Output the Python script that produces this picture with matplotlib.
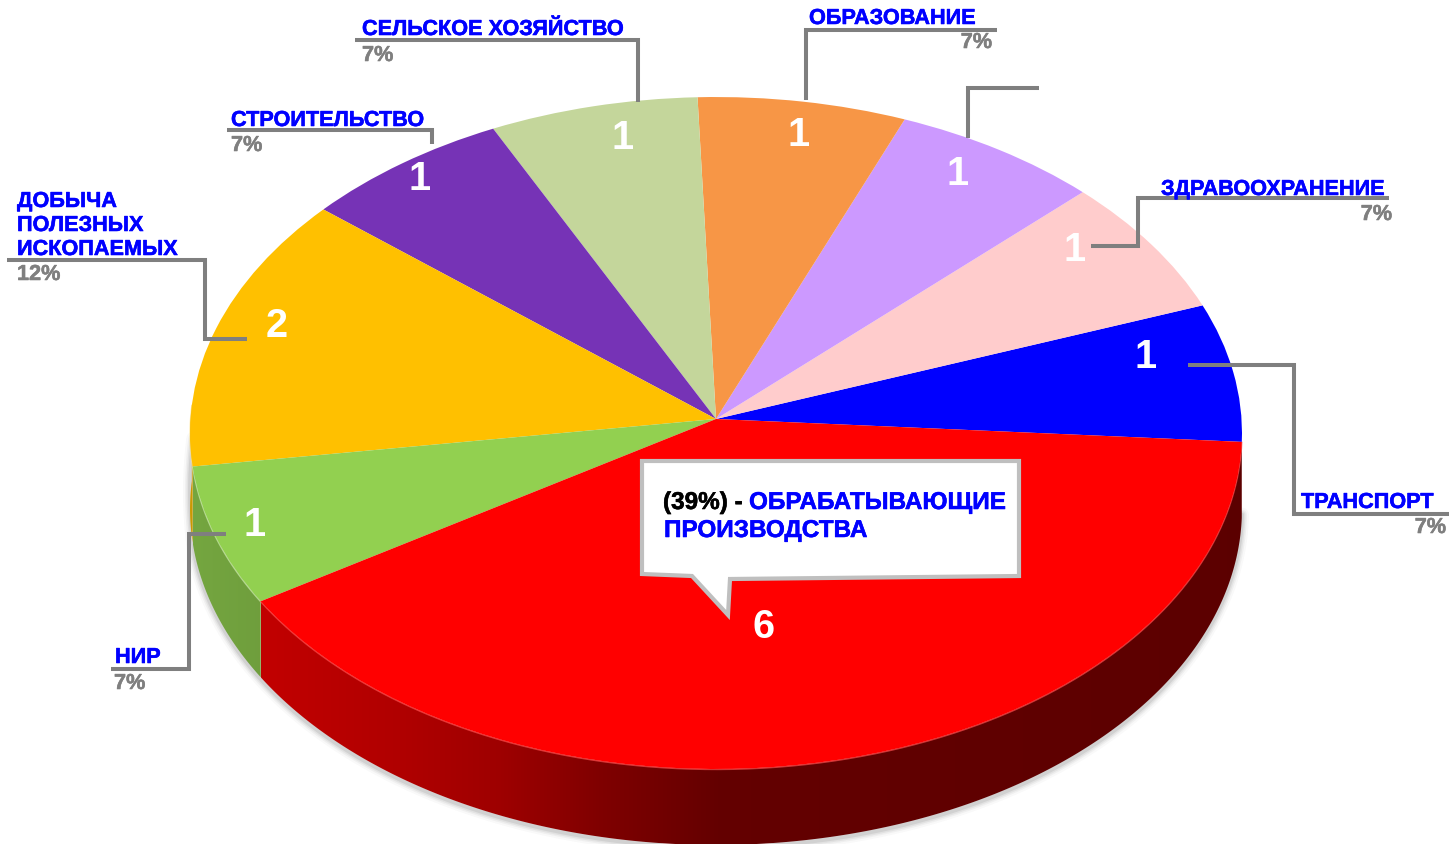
import numpy as np
import matplotlib
matplotlib.use("Agg")
import matplotlib.pyplot as plt
from matplotlib import patheffects as pe
from matplotlib.colors import to_rgb
from matplotlib.patches import Polygon
from matplotlib.transforms import Transform

plt.rcParams['font.family'] = ['Liberation Sans', 'DejaVu Sans']

# ---- data ----
categories = ['ТРАНСПОРТ', 'ЗДРАВООХРАНЕНИЕ', '', 'ОБРАЗОВАНИЕ', 'СЕЛЬСКОЕ ХОЗЯЙСТВО',
              'СТРОИТЕЛЬСТВО', 'ДОБЫЧА\nПОЛЕЗНЫХ\nИСКОПАЕМЫХ', 'НИР', 'ОБРАБАТЫВАЮЩИЕ ПРОИЗВОДСТВА']
values = [1, 1, 1, 1, 1, 1, 2, 1, 6]
percents = ['7%', '7%', '', '7%', '7%', '7%', '12%', '7%', '39%']
colors = ['#0000ff', '#ffcccc', '#cc99ff', '#f79646', '#c4d69b',
          '#7633b6', '#ffc000', '#92d050', '#ff0000']

# ---- layout (pixels) ----
W, H = 1449, 845
CX, CY, RX, RY, PK = 716.0, 420.0, 525.5, 335.4, 0.0417
DEPTH = 76.0
BLUE, GRAY = '#0000ff', '#7f7f7f'
FS = 15.6
value_pos = [(1146, 353), (1075, 246), (958, 170), (799, 131), (623, 134),
             (420, 175), (277, 322), (255, 521), (763, 623)]
leaders = [
    [(1188, 365.7), (1294, 365.7), (1294, 514.7), (1449, 514.7)],
    [(1091, 246.7), (1138, 246.7), (1138, 198.7), (1389, 198.7)],
    [(968, 139), (968, 88.7), (1039, 88.7)],
    [(806, 101), (806, 30.7), (997, 30.7)],
    [(638, 103), (638, 40.7), (355, 40.7)],
    [(432, 145), (432, 130.7), (227, 130.7)],
    [(247, 339.7), (205, 339.7), (205, 260.7), (7, 260.7)],
    [(226, 534.7), (189, 534.7), (189, 669.7), (111, 669.7)],
]
name_pos = [(1301, 509), (1161, 196), None, (809, 25), (362, 36), (231, 127), (17, 208), (115, 664)]
pct_pos = [(1446, 534, 'right'), (1392, 221, 'right'), None, (992, 49, 'right'),
           (362, 62, 'left'), (231, 152, 'left'), (17, 281, 'left'), (114, 690, 'left')]
callout = [(642, 462), (1019, 462), (1019, 577), (730, 580), (728, 616), (692, 577), (642, 575)]
thicken = [pe.withStroke(linewidth=0.4, foreground=BLUE)]
thicken_g = [pe.withStroke(linewidth=0.4, foreground=GRAY)]
thicken_k = [pe.withStroke(linewidth=0.4, foreground='black')]


class TiltTransform(Transform):
    """Unit disc -> screen pixels under a slight perspective tilt."""
    input_dims = output_dims = 2
    is_separable = False
    has_inverse = False

    def transform_non_affine(self, values):
        v = np.asarray(values, float)
        d = 1 + PK * v[:, 1]
        return np.column_stack([CX + RX * v[:, 0] / d, CY - RY * v[:, 1] / d])


def shade(x):
    return np.interp(x, [190, 262, 400, 500, 600, 720, 1240],
                     [.80, .76, .69, .62, .50, .39, .36])


fig = plt.figure(figsize=(W / 100, H / 100), dpi=100, facecolor='white')
ax = fig.add_axes([0, 0, 1, 1])
wedges, _ = ax.pie(values, colors=colors, startangle=-3.9, counterclock=True, radius=1,
                   wedgeprops=dict(linewidth=0))
tilt = TiltTransform()


def rim(a):
    r = np.radians(a)
    return tilt.transform(np.column_stack([np.cos(r), np.sin(r)]))


# soft shadow along the lower edge of the wall
a = np.linspace(176, 357, 500)
e = rim(a) + [0, DEPTH]
e[:, 1] = np.where(a < 190, e[:, 1] - (190 - a) * 2.5, e[:, 1])
for lw, al in zip([14, 10, 7, 4], [.03, .05, .07, .10]):
    ax.plot(e[:, 0], e[:, 1] + 2, color='#404040', lw=lw * .72, alpha=al,
            solid_capstyle='round', zorder=0.5)

# side wall, only the front half of the disc is visible
for w, c in zip(wedges, colors):
    t1, t2 = w.theta1 % 360, w.theta2 % 360
    if t2 < t1:
        t2 += 360
    lo, hi = max(t1, 177.6), min(t2, 356.1)
    if hi <= lo:
        continue
    aa = np.linspace(lo, hi, int((hi - lo) * 4) + 2)
    top = rim(aa)
    outline = np.vstack([top, (top + [0, DEPTH])[::-1]])
    x0, x1 = outline[:, 0].min(), outline[:, 0].max()
    y0, y1 = outline[:, 1].min(), outline[:, 1].max()
    xs = np.linspace(x0, x1, max(int(x1 - x0), 2))
    base = np.array(to_rgb(c))
    grad = (base[None, :] * shade(xs)[:, None])[None, :, :]
    im = ax.imshow(grad, extent=(x0, x1, y1, y0), aspect='auto', zorder=1,
                   interpolation='bilinear')
    im.set_clip_path(Polygon(outline, closed=True, transform=ax.transData))
    hl = 0.45 * base + 0.55 if c != '#ff0000' else np.array([1, .3, .3])
    ax.plot(top[:, 0], top[:, 1] + 0.5, color=hl, lw=1.0, alpha=.7, zorder=1.5)

ax.set_aspect('auto')
ax.set_xlim(0, W)
ax.set_ylim(H, 0)
ax.axis('off')

# top face
for w in wedges:
    w.set_transform(tilt + ax.transData)
    w.set_zorder(2)

# leader lines
for pts in leaders:
    xs, ys = zip(*pts)
    ax.plot(xs, ys, color=GRAY, lw=2.9, solid_joinstyle='miter', solid_capstyle='butt', zorder=3)

# names and percentages
for name, pos, pct, pp in zip(categories, name_pos, percents, pct_pos):
    if pos is not None and name:
        for j, line in enumerate(name.split('\n')):
            ax.text(pos[0], pos[1] + j * 24, line, color=BLUE, fontsize=FS, fontweight='bold',
                    va='baseline', ha='left', zorder=4, path_effects=thicken)
    if pp is not None and pct:
        ax.text(pp[0], pp[1], pct, color=GRAY, fontsize=FS, fontweight='bold',
                va='baseline', ha=pp[2], zorder=4, path_effects=thicken_g)

# values
for v, (x, y) in zip(values, value_pos):
    ax.text(x, y, str(v), color='white', fontsize=28.5, fontweight='bold',
            ha='center', va='center_baseline', zorder=4)

# callout for the largest slice
ax.add_patch(Polygon(callout, closed=True, facecolor='white', edgecolor='#bfbfbf',
                     lw=3.0, joinstyle='miter', zorder=3.5))
name_big = categories[-1].split(' ')
BIG = 17.5
ax.text(663, 510, f'({percents[-1]}) - ', color='black', fontsize=BIG, fontweight='bold',
        va='baseline', ha='left', zorder=4, path_effects=thicken_k)
ax.text(749, 510, name_big[0], color=BLUE, fontsize=BIG, fontweight='bold',
        va='baseline', ha='left', zorder=4, path_effects=thicken)
ax.text(664, 538, name_big[1], color=BLUE, fontsize=BIG, fontweight='bold',
        va='baseline', ha='left', zorder=4, path_effects=thicken)

fig.savefig('out.png', dpi=100, facecolor='white')
